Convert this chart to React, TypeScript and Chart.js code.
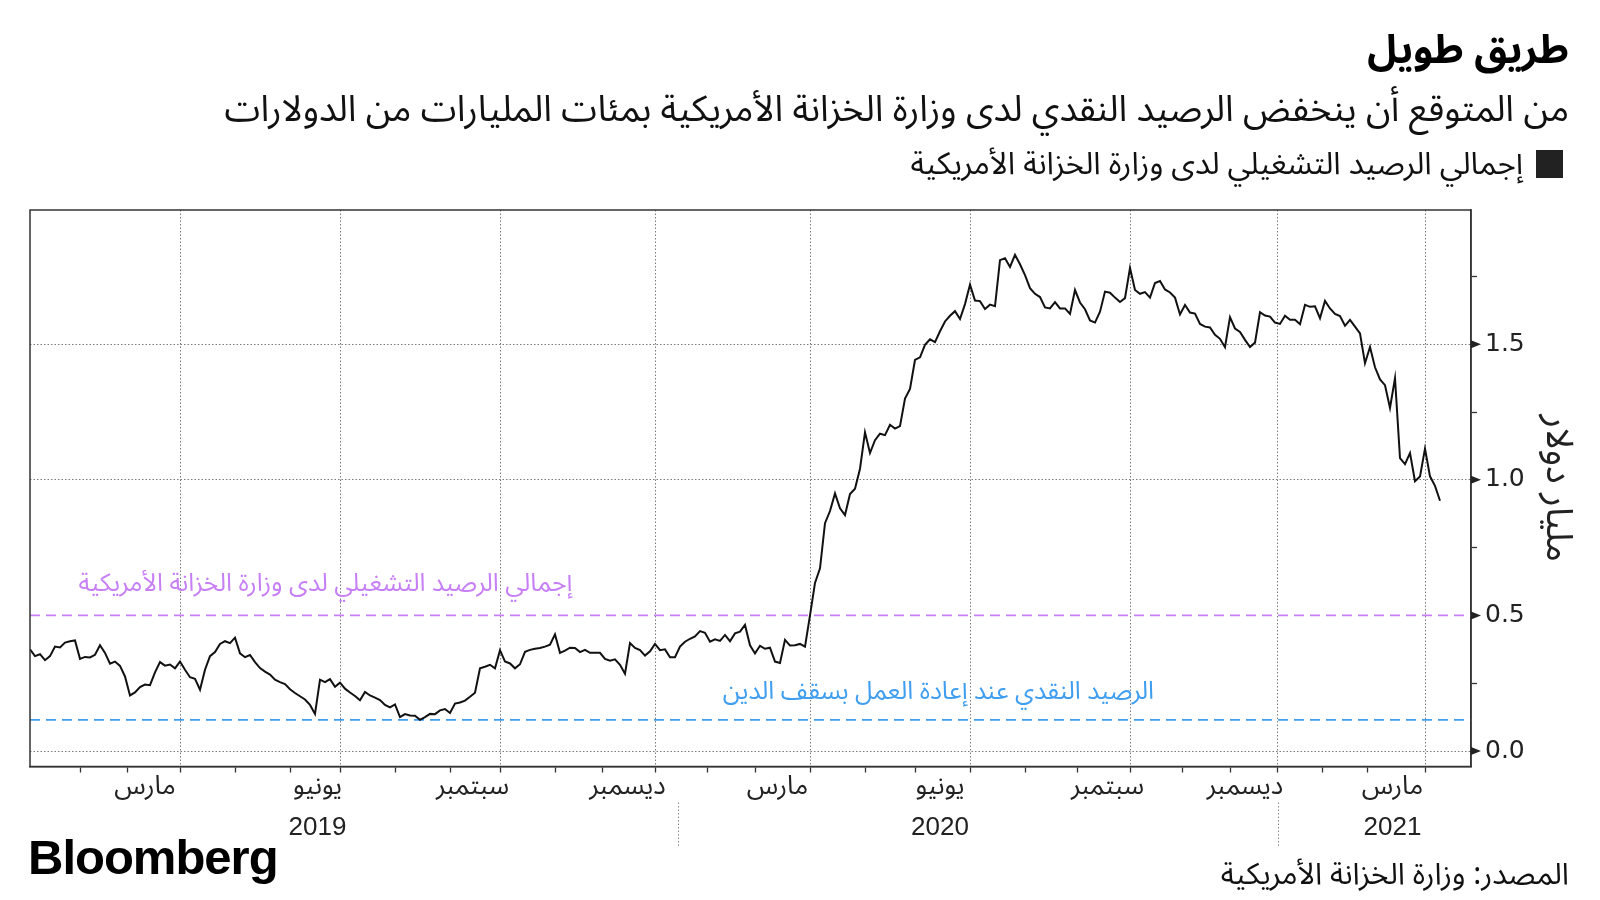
import React, { useEffect, useRef } from 'react';
import { Chart, registerables } from 'chart.js';

Chart.register(...registerables);

// Treasury operating cash balance, trillions of dollars (one value every 2 trading days)
const balance: number[] = [
  0.375, 0.350, 0.357, 0.335, 0.350, 0.385, 0.382, 0.400, 0.405, 0.408,
  0.340, 0.347, 0.345, 0.355, 0.390, 0.362, 0.322, 0.330, 0.314, 0.275,
  0.205, 0.216, 0.236, 0.245, 0.243, 0.290, 0.328, 0.315, 0.319, 0.305,
  0.330, 0.300, 0.272, 0.266, 0.226, 0.300, 0.350, 0.365, 0.395, 0.405,
  0.398, 0.418, 0.360, 0.346, 0.354, 0.328, 0.306, 0.293, 0.282, 0.263,
  0.254, 0.247, 0.228, 0.214, 0.202, 0.190, 0.170, 0.137, 0.263, 0.254,
  0.265, 0.237, 0.252, 0.230, 0.216, 0.203, 0.187, 0.218, 0.205, 0.197,
  0.188, 0.170, 0.161, 0.172, 0.125, 0.136, 0.131, 0.130, 0.115, 0.125,
  0.137, 0.136, 0.150, 0.155, 0.140, 0.175, 0.179, 0.186, 0.200, 0.215,
  0.305, 0.311, 0.318, 0.305, 0.372, 0.330, 0.323, 0.305, 0.320, 0.366,
  0.373, 0.377, 0.380, 0.385, 0.392, 0.430, 0.362, 0.370, 0.381, 0.380,
  0.365, 0.373, 0.362, 0.362, 0.362, 0.340, 0.333, 0.338, 0.318, 0.285,
  0.398, 0.380, 0.372, 0.352, 0.368, 0.395, 0.372, 0.375, 0.346, 0.346,
  0.385, 0.403, 0.414, 0.423, 0.442, 0.436, 0.403, 0.412, 0.406, 0.428,
  0.405, 0.434, 0.440, 0.465, 0.390, 0.360, 0.388, 0.377, 0.381, 0.330,
  0.325, 0.410, 0.389, 0.390, 0.395, 0.385, 0.500, 0.620, 0.674, 0.840,
  0.885, 0.950, 0.895, 0.870, 0.948, 0.967, 1.041, 1.175, 1.099, 1.146,
  1.170, 1.165, 1.203, 1.189, 1.198, 1.300, 1.335, 1.442, 1.452, 1.498,
  1.518, 1.508, 1.548, 1.584, 1.605, 1.622, 1.593, 1.648, 1.720, 1.661,
  1.659, 1.630, 1.646, 1.640, 1.810, 1.817, 1.785, 1.830, 1.795, 1.755,
  1.707, 1.686, 1.674, 1.636, 1.632, 1.655, 1.632, 1.632, 1.612, 1.700,
  1.654, 1.629, 1.588, 1.580, 1.620, 1.694, 1.690, 1.672, 1.656, 1.670,
  1.781, 1.700, 1.686, 1.692, 1.672, 1.726, 1.733, 1.702, 1.691, 1.672,
  1.610, 1.645, 1.617, 1.613, 1.575, 1.565, 1.562, 1.535, 1.520, 1.489,
  1.600, 1.558, 1.545, 1.516, 1.490, 1.506, 1.618, 1.606, 1.602, 1.580,
  1.575, 1.605, 1.590, 1.590, 1.574, 1.645, 1.638, 1.640, 1.596, 1.660,
  1.632, 1.612, 1.604, 1.568, 1.590, 1.565, 1.540, 1.430, 1.490, 1.415,
  1.370, 1.349, 1.265, 1.375, 1.080, 1.058, 1.099, 0.995, 1.012, 1.115,
  1.013, 0.978, 0.923,
];
const STEP = 2; // trading days between samples
const X_MAX = 576.4; // trading days shown on the axis

// month starts (trading-day index), quarter grid lines, month label positions
const monthStarts = [20, 39, 60, 82, 104, 124, 146, 168, 188, 210, 229, 250, 271, 290, 312, 334, 354, 376, 398, 419, 440, 461, 480, 499, 517, 535, 558];
const quarterLines = [60, 124, 188, 250, 312, 376, 440, 499, 558];
const monthLabelPos = [46, 115, 177, 239, 299, 364, 431, 486, 545];
const monthLabels = ['مارس', 'يونيو', 'سبتمبر', 'ديسمبر', 'مارس', 'يونيو', 'سبتمبر', 'ديسمبر', 'مارس'];
const yearLabels = ['', '2019', '', '', '', '2020', '', '', '2021'];
const yearDividers = [259, 499];

const yTicks = [0, 0.25, 0.5, 0.75, 1, 1.25, 1.5, 1.75];
const yLabeled = [0, 0.5, 1, 1.5];
const yGridLines = [0, 1, 1.5];
const Y_MIN = -0.057;
const Y_MAX = 1.995;

const operatingLevel = 0.5;
const debtCeilingLevel = 0.115;

const PURPLE = '#c77ff5';
const BLUE = '#3f9ef0';
const AR = "'Noto Sans Arabic', 'DejaVu Sans', sans-serif";
const AR_LAT = "'Liberation Sans', 'Noto Sans Arabic', 'DejaVu Sans', sans-serif";

const annotations = [
  { text: 'إجمالي الرصيد التشغيلي لدى وزارة الخزانة الأمريكية', x: 217, y: 0.604, color: PURPLE },
  { text: 'الرصيد النقدي عند إعادة العمل بسقف الدين', x: 449.6, y: 0.206, color: BLUE },
];

const decorPlugin = {
  id: 'decor',
  afterDraw(chart: any) {
    const { ctx, chartArea, scales } = chart;
    const xs = scales.x;
    const ys = scales.y;
    ctx.save();
    // frame
    ctx.strokeStyle = '#333';
    ctx.lineWidth = 1.5;
    ctx.setLineDash([]);
    ctx.strokeRect(chartArea.left, chartArea.top, chartArea.right - chartArea.left, chartArea.bottom - chartArea.top);
    // triangles at labelled y ticks
    ctx.fillStyle = '#222';
    yLabeled.forEach((v) => {
      const y = ys.getPixelForValue(v);
      ctx.beginPath();
      ctx.moveTo(chartArea.right, y - 4);
      ctx.lineTo(chartArea.right + 10, y);
      ctx.lineTo(chartArea.right, y + 4);
      ctx.closePath();
      ctx.fill();
    });
    // year dividers
    ctx.strokeStyle = '#888';
    ctx.lineWidth = 1;
    ctx.setLineDash([1.5, 2]);
    yearDividers.forEach((v) => {
      const x = Math.round(xs.getPixelForValue(v)) + 0.5;
      ctx.beginPath();
      ctx.moveTo(x, chartArea.bottom + 36);
      ctx.lineTo(x, chartArea.bottom + 81);
      ctx.stroke();
    });
    ctx.setLineDash([]);
    // annotation texts
    ctx.font = `25px ${AR}`;
    ctx.direction = 'rtl';
    ctx.textAlign = 'right';
    ctx.textBaseline = 'middle';
    annotations.forEach((a) => {
      ctx.fillStyle = a.color;
      ctx.fillText(a.text, xs.getPixelForValue(a.x), ys.getPixelForValue(a.y));
    });
    ctx.restore();
  },
};

export default function App() {
  const ref = useRef<HTMLCanvasElement | null>(null);

  useEffect(() => {
    if (!ref.current) return;
    const chart = new Chart(ref.current, {
      type: 'line',
      data: {
        datasets: [
          {
            data: balance.map((v, i) => ({ x: i * STEP, y: v })),
            borderColor: '#111',
            borderWidth: 2,
            pointRadius: 0,
            tension: 0,
          },
          {
            data: [{ x: 0, y: operatingLevel }, { x: X_MAX, y: operatingLevel }],
            borderColor: PURPLE,
            borderWidth: 1.8,
            borderDash: [10, 6],
            pointRadius: 0,
          },
          {
            data: [{ x: 0, y: debtCeilingLevel }, { x: X_MAX, y: debtCeilingLevel }],
            borderColor: BLUE,
            borderWidth: 1.8,
            borderDash: [10, 6],
            pointRadius: 0,
          },
        ],
      },
      options: {
        responsive: false,
        animation: false,
        events: [],
        layout: { padding: { left: 30, top: 210, right: 29, bottom: 43.5 } },
        plugins: { legend: { display: false }, tooltip: { enabled: false }, title: { display: false } },
        scales: {
          x: {
            type: 'linear',
            position: 'bottom',
            min: 0,
            max: X_MAX,
            afterBuildTicks: (s: any) => {
              s.ticks = [...monthStarts, ...monthLabelPos].sort((a, b) => a - b).map((v) => ({ value: v }));
            },
            afterFit: (s: any) => { s.height = 90; },
            grid: {
              drawOnChartArea: true,
              drawTicks: true,
              tickLength: 6,
              lineWidth: 1,
              color: (c: any) => (c.tick && quarterLines.includes(c.tick.value) ? '#7a7a7a' : 'rgba(0,0,0,0)'),
              tickColor: (c: any) => (c.tick && monthStarts.includes(c.tick.value) ? '#333' : 'rgba(0,0,0,0)'),
              tickWidth: 1.3,
              tickBorderDash: [],
            },
            border: { display: true, color: '#333', width: 1.5, dash: [1.5, 2] },
            ticks: {
              autoSkip: false,
              maxRotation: 0,
              minRotation: 0,
              padding: -6,
              color: '#222',
              font: { family: AR_LAT, size: 26, lineHeight: 1.58 },
              callback: (value: any) => {
                const k = monthLabelPos.indexOf(value);
                if (k < 0) return '';
                return yearLabels[k] ? [monthLabels[k], yearLabels[k]] : monthLabels[k];
              },
            },
          },
          y: {
            type: 'linear',
            position: 'right',
            min: Y_MIN,
            max: Y_MAX,
            afterBuildTicks: (s: any) => {
              s.ticks = yTicks.map((v) => ({ value: v }));
            },
            afterFit: (s: any) => { s.width = 100; },
            grid: {
              drawOnChartArea: true,
              tickLength: 6,
              lineWidth: 1,
              color: (c: any) => (c.tick && yGridLines.includes(c.tick.value) ? '#7a7a7a' : 'rgba(0,0,0,0)'),
              tickColor: (c: any) => (c.tick && yLabeled.includes(c.tick.value) ? 'rgba(0,0,0,0)' : '#333'),
              tickWidth: 1.3,
              tickBorderDash: [],
            },
            border: { display: true, color: '#333', width: 1.5, dash: [1.5, 2] },
            ticks: {
              padding: 8,
              color: '#222',
              font: { family: "'DejaVu Sans', sans-serif", size: 25 },
              callback: (value: any) => (yLabeled.includes(value) ? Number(value).toFixed(1) : ''),
            },
            title: {
              display: true,
              text: 'مليار دولار',
              color: '#222',
              padding: 0,
              font: { family: AR, size: 37, lineHeight: 1 },
            },
          },
        },
      } as any,
      plugins: [decorPlugin],
    });
    return () => chart.destroy();
  }, []);

  const rtl: React.CSSProperties = { position: 'absolute', right: 31, direction: 'rtl', textAlign: 'right', whiteSpace: 'nowrap', color: '#111', fontFamily: AR, lineHeight: 1 };

  return (
    <div style={{ position: 'absolute', left: 0, top: 0, width: 1600, height: 900, background: '#fff', overflow: 'hidden' }}>
      <canvas ref={ref} width={1600} height={900} style={{ position: 'absolute', left: 0, top: 0, width: 1600, height: 900 }} />
      <div style={{ ...rtl, top: 31, fontSize: 40, fontWeight: 700, color: '#000' }}>طريق طويل</div>
      <div style={{ ...rtl, top: 92, fontSize: 36.3 }}>من المتوقع أن ينخفض الرصيد النقدي لدى وزارة الخزانة الأمريكية بمئات المليارات من الدولارات</div>
      <div style={{ position: 'absolute', left: 1536, top: 150, width: 27, height: 28, background: '#222' }} />
      <div style={{ ...rtl, right: 77, top: 148.5, fontSize: 31 }}>إجمالي الرصيد التشغيلي لدى وزارة الخزانة الأمريكية</div>
      <div style={{ position: 'absolute', left: 28, top: 833, fontFamily: "'Liberation Sans', Arial, sans-serif", fontWeight: 700, fontSize: 49, letterSpacing: -1, lineHeight: 1, color: '#000' }}>Bloomberg</div>
      <div style={{ ...rtl, top: 859.5, fontSize: 30 }}>المصدر: وزارة الخزانة الأمريكية</div>
    </div>
  );
}
